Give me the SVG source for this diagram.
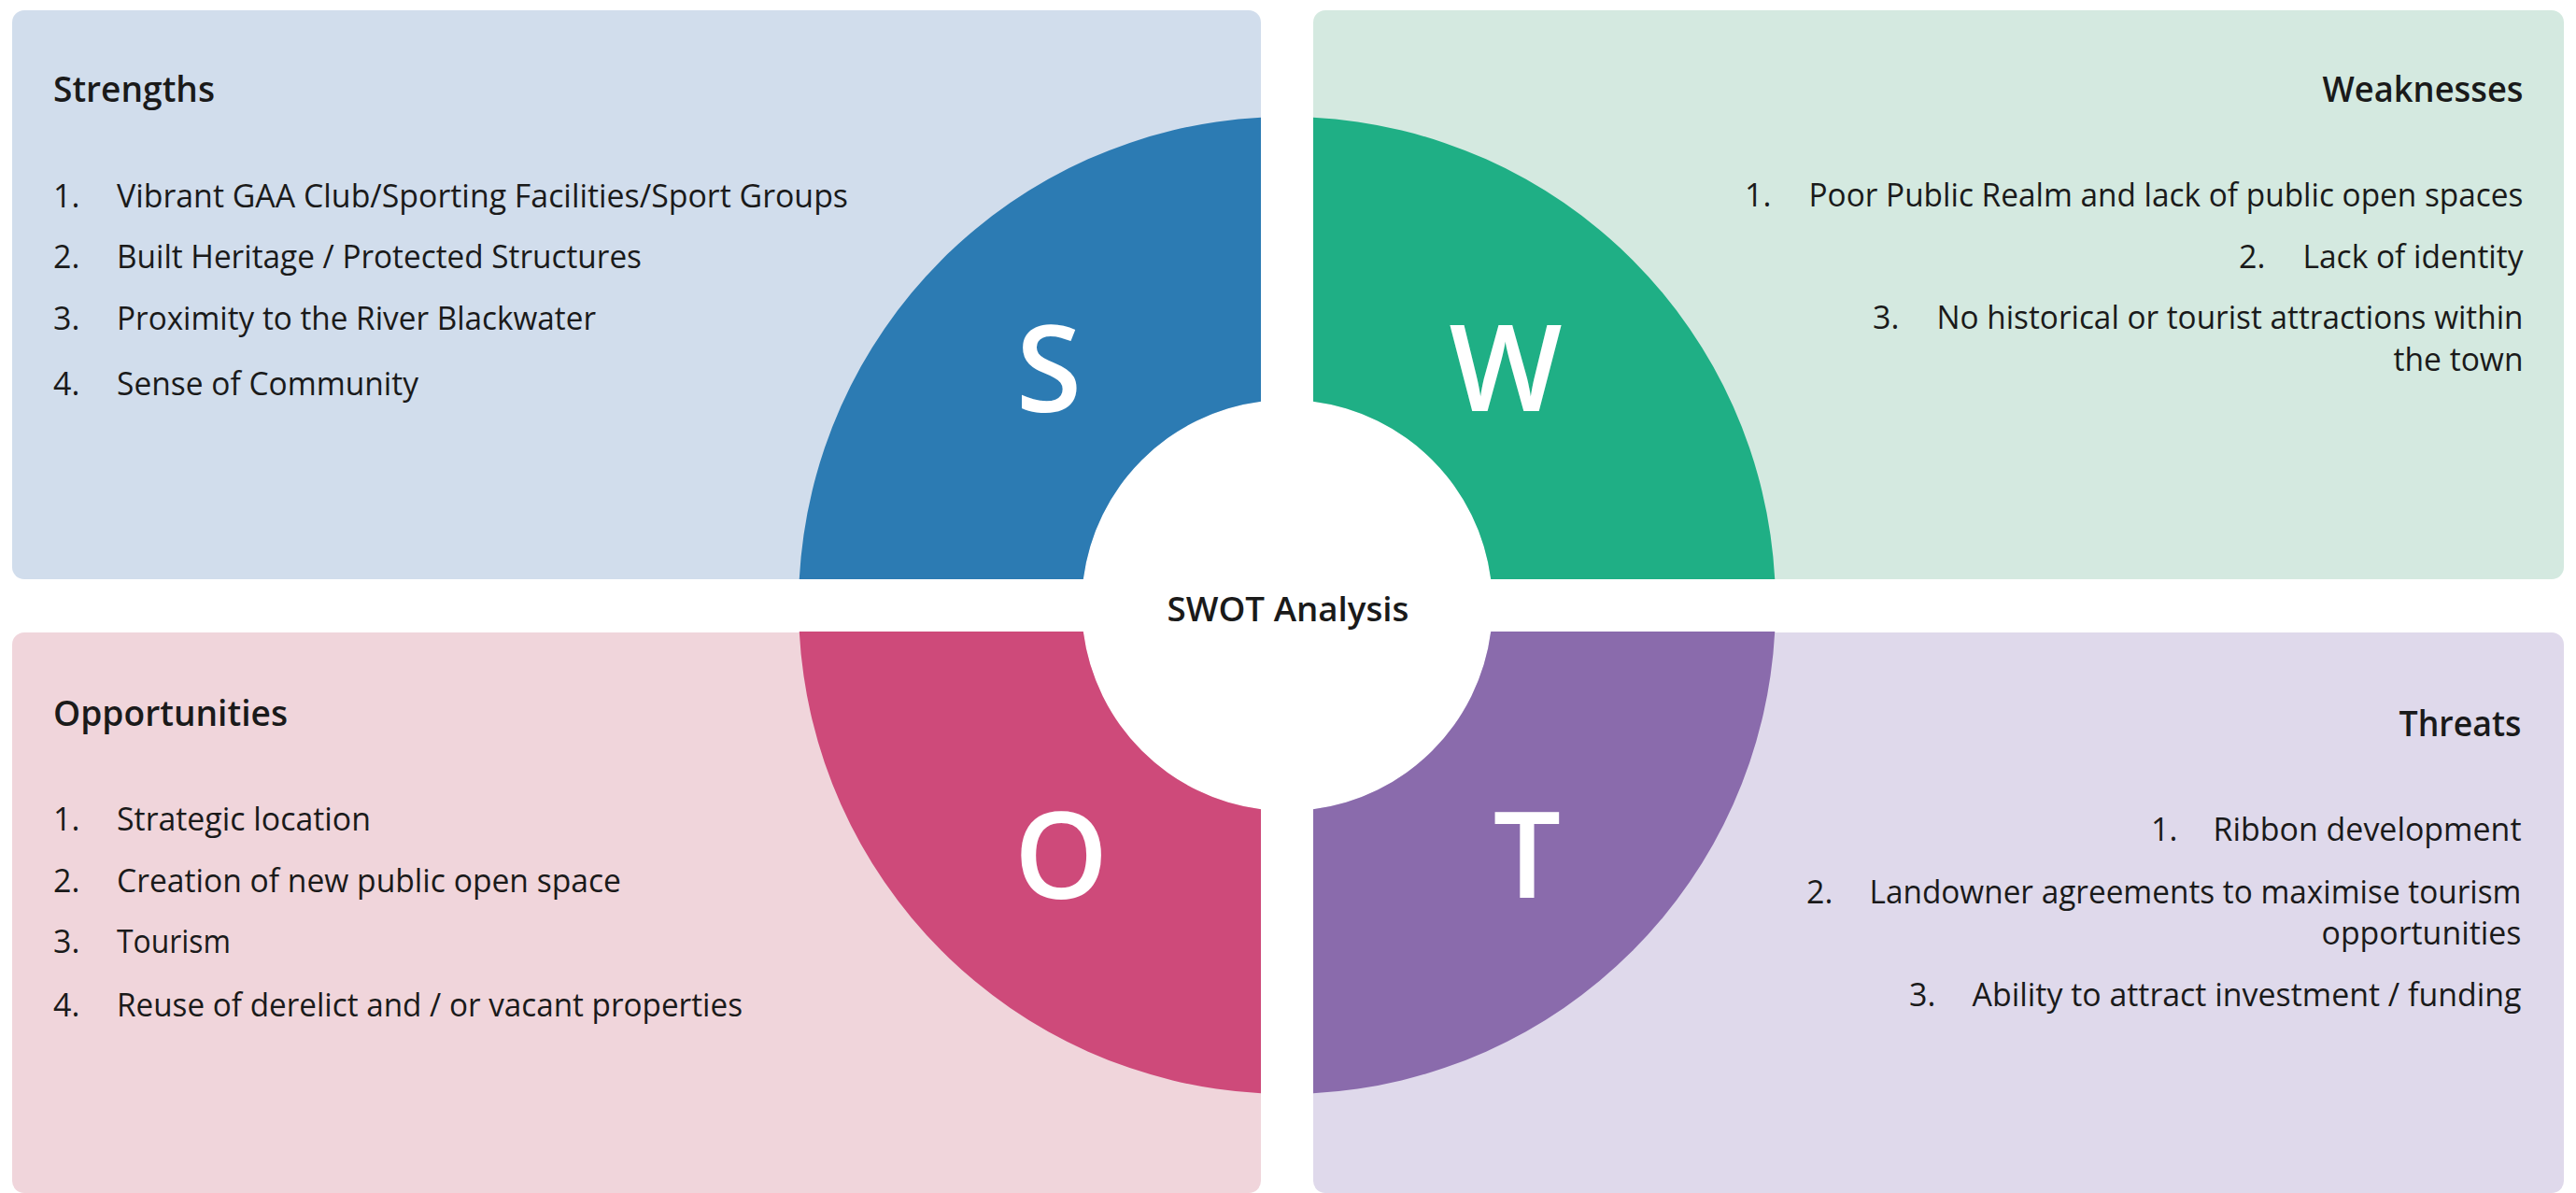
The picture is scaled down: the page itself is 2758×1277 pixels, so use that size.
<svg xmlns="http://www.w3.org/2000/svg" width="2758" height="1277" viewBox="0 0 2758 1277">
<style>
text{font-family:"Open Sans","Noto Sans","Liberation Sans",sans-serif;fill:#1a1a1a}
.title{font-size:38px;font-weight:600}
.item{font-size:34px}
.end{text-anchor:end}
.letter{font-size:128px;font-weight:600;fill:#ffffff;text-anchor:middle}
.center{font-size:36px;font-weight:600;text-anchor:middle}
</style>
<rect width="2758" height="1277" fill="#ffffff"/>
<g id="panels">
<rect x="13" y="11" width="1337" height="609" rx="13" fill="#D1DDEC"/>
<rect x="1406" y="11" width="1339" height="609" rx="13" fill="#D4E9E0"/>
<rect x="13" y="677" width="1337" height="600" rx="13" fill="#F0D5DB"/>
<rect x="1406" y="677" width="1339" height="600" rx="13" fill="#DFD9EB"/>
</g>
<circle id="hub-bg" cx="1378" cy="648" r="220" fill="#ffffff"/>
<g id="strengths">
<path d="M855.75,620 A523,523 0 0 1 1350,125.75 L1350,429.79 A220,220 0 0 0 1159.79,620 Z" fill="#2C7BB3"/>
<text class="letter" x="1123" y="441">S</text>
<text class="title" x="57" y="109" textLength="173" lengthAdjust="spacingAndGlyphs">Strengths</text>
<text class="item" x="57" y="222">1.</text>
<text class="item" x="125" y="222" textLength="783" lengthAdjust="spacingAndGlyphs">Vibrant GAA Club/Sporting Facilities/Sport Groups</text>
<text class="item" x="57" y="287">2.</text>
<text class="item" x="125" y="287" textLength="562" lengthAdjust="spacingAndGlyphs">Built Heritage / Protected Structures</text>
<text class="item" x="57" y="353">3.</text>
<text class="item" x="125" y="353" textLength="513" lengthAdjust="spacingAndGlyphs">Proximity to the River Blackwater</text>
<text class="item" x="57" y="423">4.</text>
<text class="item" x="125" y="423" textLength="323" lengthAdjust="spacingAndGlyphs">Sense of Community</text>
</g>
<g id="weaknesses">
<path d="M1406,125.75 A523,523 0 0 1 1900.25,620 L1596.21,620 A220,220 0 0 0 1406,429.79 Z" fill="#1FAF85"/>
<text class="letter" x="1612" y="440">W</text>
<text class="title end" x="2701.5" y="109" textLength="215" lengthAdjust="spacingAndGlyphs">Weaknesses</text>
<text class="item" x="1868" y="221">1.</text>
<text class="item end" x="2701.5" y="221" textLength="765" lengthAdjust="spacingAndGlyphs">Poor Public Realm and lack of public open spaces</text>
<text class="item" x="2397" y="287">2.</text>
<text class="item end" x="2701.5" y="287" textLength="236" lengthAdjust="spacingAndGlyphs">Lack of identity</text>
<text class="item" x="2005" y="352">3.</text>
<text class="item end" x="2701.5" y="352" textLength="628" lengthAdjust="spacingAndGlyphs">No historical or tourist attractions within</text>
<text class="item end" x="2701.5" y="397" textLength="139" lengthAdjust="spacingAndGlyphs">the town</text>
</g>
<g id="opportunities">
<path d="M1350,1170.25 A523,523 0 0 1 855.75,676 L1159.79,676 A220,220 0 0 0 1350,866.21 Z" fill="#CE4A7A"/>
<text class="letter" x="1136" y="962">O</text>
<text class="title" x="57" y="777" textLength="251" lengthAdjust="spacingAndGlyphs">Opportunities</text>
<text class="item" x="57" y="889">1.</text>
<text class="item" x="125" y="889" textLength="272" lengthAdjust="spacingAndGlyphs">Strategic location</text>
<text class="item" x="57" y="955">2.</text>
<text class="item" x="125" y="955" textLength="540" lengthAdjust="spacingAndGlyphs">Creation of new public open space</text>
<text class="item" x="57" y="1020">3.</text>
<text class="item" x="125" y="1020" textLength="122" lengthAdjust="spacingAndGlyphs">Tourism</text>
<text class="item" x="57" y="1088">4.</text>
<text class="item" x="125" y="1088" textLength="670" lengthAdjust="spacingAndGlyphs">Reuse of derelict and / or vacant properties</text>
</g>
<g id="threats">
<path d="M1900.25,676 A523,523 0 0 1 1406,1170.25 L1406,866.21 A220,220 0 0 0 1596.21,676 Z" fill="#8A6BAC"/>
<text class="letter" x="1635" y="961">T</text>
<text class="title end" x="2699.5" y="788" textLength="131" lengthAdjust="spacingAndGlyphs">Threats</text>
<text class="item" x="2303" y="900">1.</text>
<text class="item end" x="2699.5" y="900" textLength="330" lengthAdjust="spacingAndGlyphs">Ribbon development</text>
<text class="item" x="1934" y="967">2.</text>
<text class="item end" x="2699.5" y="967" textLength="698" lengthAdjust="spacingAndGlyphs">Landowner agreements to maximise tourism</text>
<text class="item end" x="2699.5" y="1011" textLength="214" lengthAdjust="spacingAndGlyphs">opportunities</text>
<text class="item" x="2044" y="1077">3.</text>
<text class="item end" x="2699.5" y="1077" textLength="588" lengthAdjust="spacingAndGlyphs">Ability to attract investment / funding</text>
</g>
<g id="hub">
<text class="center" x="1379" y="665" textLength="259" lengthAdjust="spacingAndGlyphs">SWOT Analysis</text>
</g>
</svg>
